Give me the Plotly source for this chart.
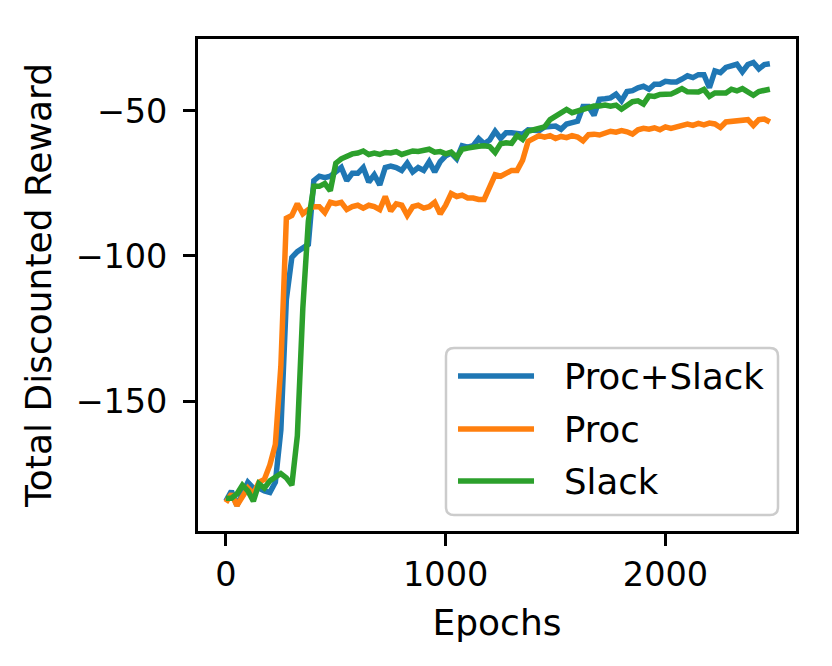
import plotly.graph_objects as go

# epochs sampled every 25 steps
epochs = list(range(0, 2500, 25))

proc_slack = [
    -184.5, -181, -186, -182, -178, -180, -180, -181, -181.5, -178,
    -160, -115, -100.5, -98.5, -97, -96, -74, -72.5, -73, -72.5,
    -71, -69.5, -74, -71.5, -71.5, -69.5, -74.5, -72, -75.5, -69.5,
    -69, -69.5, -70.5, -68, -71, -69.5, -70.5, -67.5, -71, -67.5,
    -65.5, -64.5, -66.5, -62, -62.5, -62, -59.5, -61.3, -60, -57,
    -59.5, -57.5, -57.5, -57.8, -58, -56.5, -56.5, -56.8, -55.5, -55.5,
    -55.2, -56.3, -54.5, -54, -53.5, -48.5, -48.5, -51.5, -46, -45.8,
    -45.5, -44.2, -46.5, -43.3, -43, -42, -41.5, -42.5, -40.8, -40.8,
    -39.8, -40, -40, -39, -37.9, -38.5, -37.5, -37.5, -42, -36.2,
    -36.8, -35, -34.2, -33.9, -36.5, -34, -33.3, -35.5, -34, -33.7,
]

proc = [
    -185, -182, -186, -183, -180, -182, -178, -177, -172, -165,
    -138, -87, -86, -82, -85.5, -84, -83, -83, -85, -81.5,
    -82, -81.5, -84, -83, -82.5, -83.5, -82.5, -83, -84, -79.5,
    -84.5, -82, -82.5, -86, -83, -82.5, -83.5, -83, -81.5, -85.5,
    -82.5, -78.5, -79.5, -79, -80, -80, -80.5, -80.5, -76, -72,
    -72.5, -71.5, -70.5, -70.5, -67, -60.5, -59.5, -58.5, -59, -58.5,
    -59.5, -58.8, -59.2, -58.5, -59, -60.3, -58.2, -58, -58.3, -57.5,
    -57, -57.3, -56.8, -57.2, -58, -56.5, -56, -56.3, -55.8, -56.5,
    -55.5, -56, -55.5, -55, -54.5, -55, -54.3, -54.8, -54.2, -54.5,
    -55.7, -53.8, -53.5, -53.5, -53, -53, -55, -53, -52.8, -53.8,
]

slack = [
    -183.5, -183.5, -182, -179, -181, -184.5, -178.5, -180, -177.5, -176,
    -175, -176.5, -179, -162, -118, -88, -76, -76, -75, -77.5,
    -68, -66.5, -65.5, -64.8, -64.5, -63.8, -65, -64.5, -65, -64.3,
    -64.5, -64, -65, -64.2, -63.8, -64, -63.6, -63.2, -64.2, -64,
    -64.8, -64.2, -66, -63.2, -62.8, -62.3, -62.2, -62, -62.3, -64.3,
    -61.3, -61, -61.2, -58.5, -59.8, -57, -56.5, -56.2, -55.5, -53,
    -52, -50.5, -49.5, -50.6, -50, -49.8, -48.8, -48.3, -48.3, -48,
    -48.4, -48, -49.4, -47.8, -46.8, -46.5, -47.6, -44.8, -45, -44.3,
    -44.2, -44.2, -43.3, -42.3, -43.4, -43.3, -43.5, -42.6, -45, -43.8,
    -44, -43.8, -42.5, -43.1, -42.3, -43.5, -44.6, -43.3, -43, -42.5,
]

series = [
    ("Proc+Slack", proc_slack, "#1f77b4"),
    ("Proc", proc, "#ff7f0e"),
    ("Slack", slack, "#2ca02c"),
]

fig = go.Figure()
for name, vals, color in series:
    fig.add_trace(go.Scatter(x=epochs, y=vals, mode="lines", name=name,
                             line=dict(color=color, width=5.5), showlegend=False))

axis_style = dict(
    showgrid=False, zeroline=False, showline=True, mirror=True,
    linecolor="black", linewidth=2.7, automargin=False,
    ticks="outside", ticklen=12, tickwidth=2.7, tickcolor="black",
    tickfont=dict(size=33.5, color="black"),
)

# matplotlib-like legend box (lower right, rounded corners)
bx0, bx1, by0, by1 = 0.4147, 0.9699, 0.0325, 0.3720
rx, ry = 0.0134, 0.0163
box_path = (
    f"M{bx0 + rx},{by0} L{bx1 - rx},{by0} Q{bx1},{by0} {bx1},{by0 + ry} "
    f"L{bx1},{by1 - ry} Q{bx1},{by1} {bx1 - rx},{by1} "
    f"L{bx0 + rx},{by1} Q{bx0},{by1} {bx0},{by1 - ry} "
    f"L{bx0},{by0 + ry} Q{bx0},{by0} {bx0 + rx},{by0} Z"
)
shapes = [dict(type="path", xref="paper", yref="paper", path=box_path,
               line=dict(color="#cccccc", width=2.5), fillcolor="rgba(255,255,255,0.8)")]
annotations = []
row_y = [0.3150, 0.2073, 0.1016]
for (name, _, color), ry_ in zip(series, row_y):
    shapes.append(dict(type="line", xref="paper", yref="paper",
                       x0=0.4348, x1=0.5619, y0=ry_, y1=ry_,
                       line=dict(color=color, width=5.5)))
    annotations.append(dict(xref="paper", yref="paper", x=0.6087, y=ry_,
                            xanchor="left", yanchor="middle", showarrow=False,
                            text=name, font=dict(size=35.5, color="black")))

# page renders offset by ~8px, so margins are shifted to compensate
fig.update_layout(
    width=832, height=666,
    margin=dict(l=190, r=44, t=31, b=143),
    paper_bgcolor="white", plot_bgcolor="white",
    font=dict(family="DejaVu Sans", size=33.5, color="black"),
    xaxis=dict(range=[-127, 2594], tickvals=[0, 1000, 2000],
               title=dict(text="Epochs", standoff=17, font=dict(size=36)), **axis_style),
    yaxis=dict(range=[-194.8, -25.2], tickvals=[-150, -100, -50],
               ticktext=["\u2212150", "\u2212100", "\u221250"], ticklabelstandoff=9,
               title=dict(text="Total Discounted Reward", standoff=13, font=dict(size=36)),
               **axis_style),
    shapes=shapes,
    annotations=annotations,
    showlegend=False,
)

fig.write_html("out.html")
